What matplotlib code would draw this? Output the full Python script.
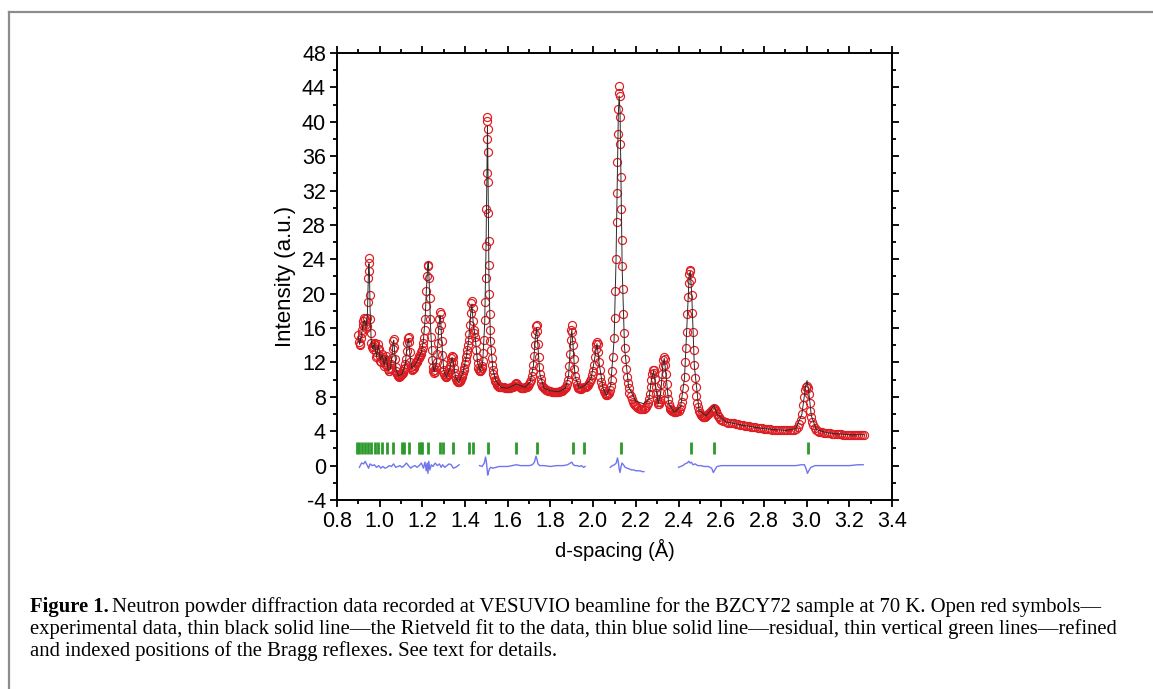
import matplotlib
matplotlib.use("Agg")
import matplotlib.pyplot as plt
from matplotlib.lines import Line2D
from matplotlib.ticker import MultipleLocator
import numpy as np

# observed intensities (d-spacing in A, intensity in a.u.)
obs = [
    (0.900, 15.2), (0.903, 14.4), (0.906, 14.0), (0.909, 14.2), (0.912, 14.8), (0.915, 15.4),
    (0.918, 15.8), (0.921, 16.3), (0.924, 16.8), (0.927, 17.2), (0.930, 17.0), (0.933, 16.4),
    (0.936, 16.0), (0.939, 16.2), (0.942, 17.2), (0.944, 19.0), (0.946, 21.8), (0.948, 23.6),
    (0.950, 24.1), (0.952, 22.6), (0.954, 19.8), (0.956, 17.0), (0.958, 15.4), (0.961, 14.3),
    (0.964, 13.8), (0.967, 13.6), (0.970, 13.9), (0.973, 14.2), (0.976, 14.3), (0.979, 14.0),
    (0.982, 13.2), (0.985, 12.6), (0.988, 12.8), (0.991, 13.6), (0.994, 14.1), (0.997, 13.6),
    (1.000, 12.8), (1.003, 12.2), (1.006, 12.0), (1.009, 12.4), (1.012, 13.0), (1.015, 12.6),
    (1.018, 12.0), (1.021, 11.6), (1.024, 11.8), (1.027, 12.4), (1.030, 12.8), (1.033, 12.3),
    (1.036, 11.6), (1.039, 11.2), (1.042, 11.0), (1.045, 11.0), (1.048, 11.2), (1.051, 11.4),
    (1.054, 11.8), (1.057, 12.5), (1.060, 13.6), (1.063, 14.5), (1.066, 14.7), (1.069, 13.8),
    (1.072, 12.4), (1.075, 11.5), (1.078, 11.0), (1.081, 10.7), (1.084, 10.5), (1.087, 10.4),
    (1.090, 10.3), (1.093, 10.4), (1.096, 10.4), (1.099, 10.5), (1.102, 10.6), (1.105, 10.7),
    (1.108, 10.8), (1.111, 11.0), (1.114, 11.2), (1.117, 11.4), (1.120, 11.8), (1.123, 12.4),
    (1.126, 13.3), (1.129, 14.3), (1.132, 14.9), (1.135, 15.0), (1.138, 14.4), (1.141, 13.2),
    (1.144, 12.1), (1.147, 11.5), (1.150, 11.2), (1.153, 11.1), (1.156, 11.2), (1.159, 11.4),
    (1.162, 11.6), (1.165, 11.7), (1.168, 11.9), (1.171, 12.0), (1.174, 12.1), (1.177, 12.2),
    (1.180, 12.4), (1.183, 12.5), (1.186, 12.7), (1.189, 12.8), (1.192, 13.0), (1.195, 13.2),
    (1.198, 13.5), (1.201, 13.8), (1.204, 14.3), (1.207, 14.9), (1.210, 15.8), (1.213, 17.0),
    (1.216, 18.6), (1.219, 20.3), (1.222, 22.0), (1.225, 23.3), (1.228, 23.2), (1.231, 21.8),
    (1.234, 19.5), (1.237, 17.0), (1.240, 15.0), (1.243, 13.4), (1.246, 12.3), (1.249, 11.5),
    (1.252, 11.0), (1.255, 10.8), (1.258, 10.9), (1.261, 11.1), (1.264, 11.5), (1.267, 12.1),
    (1.270, 13.0), (1.273, 14.3), (1.276, 15.8), (1.279, 17.1), (1.282, 17.9), (1.285, 17.6),
    (1.288, 16.3), (1.291, 14.5), (1.294, 12.9), (1.297, 11.8), (1.300, 11.1), (1.303, 10.7),
    (1.306, 10.4), (1.309, 10.3), (1.312, 10.3), (1.315, 10.4), (1.318, 10.5), (1.321, 10.7),
    (1.324, 10.9), (1.327, 11.2), (1.330, 11.6), (1.333, 12.1), (1.336, 12.5), (1.339, 12.7),
    (1.342, 12.6), (1.345, 12.1), (1.348, 11.4), (1.351, 10.8), (1.354, 10.4), (1.357, 10.1),
    (1.360, 9.9), (1.363, 9.8), (1.366, 9.7), (1.369, 9.7), (1.372, 9.7), (1.375, 9.8),
    (1.378, 9.9), (1.381, 10.1), (1.384, 10.3), (1.387, 10.5), (1.390, 10.8), (1.393, 11.1),
    (1.396, 11.4), (1.399, 11.8), (1.402, 12.2), (1.405, 12.6), (1.408, 13.0), (1.411, 13.5),
    (1.414, 14.0), (1.417, 14.6), (1.420, 15.3), (1.423, 16.4), (1.426, 17.8), (1.429, 18.9),
    (1.432, 19.2), (1.435, 18.3), (1.438, 16.8), (1.441, 15.8), (1.444, 15.4), (1.447, 15.0),
    (1.450, 14.4), (1.453, 13.5), (1.456, 12.6), (1.459, 11.9), (1.462, 11.4), (1.465, 11.1),
    (1.468, 11.0), (1.471, 11.0), (1.474, 11.1), (1.477, 11.3), (1.480, 11.6), (1.483, 12.2),
    (1.486, 13.1), (1.489, 14.6), (1.492, 16.9), (1.494, 19.0), (1.496, 21.8), (1.498, 25.6),
    (1.500, 29.8), (1.502, 34.0), (1.503, 38.0), (1.504, 40.1), (1.505, 40.5), (1.506, 39.2),
    (1.507, 36.5), (1.508, 33.0), (1.509, 29.4), (1.510, 26.1), (1.511, 23.3), (1.513, 20.0),
    (1.515, 17.6), (1.517, 15.8), (1.519, 14.5), (1.521, 13.5), (1.524, 12.5), (1.527, 11.7),
    (1.530, 11.1), (1.533, 10.7), (1.536, 10.3), (1.539, 10.0), (1.542, 9.8), (1.545, 9.7),
    (1.548, 9.5), (1.551, 9.4), (1.555, 9.3), (1.560, 9.2), (1.565, 9.2), (1.570, 9.1),
    (1.575, 9.1), (1.580, 9.1), (1.585, 9.0), (1.590, 9.0), (1.595, 9.0), (1.600, 9.0),
    (1.605, 9.0), (1.610, 9.0), (1.615, 9.1), (1.620, 9.1), (1.625, 9.2), (1.630, 9.3),
    (1.635, 9.5), (1.640, 9.6), (1.645, 9.5), (1.650, 9.3), (1.655, 9.1), (1.660, 9.0),
    (1.665, 9.0), (1.670, 9.0), (1.675, 9.0), (1.680, 9.1), (1.685, 9.1), (1.690, 9.2),
    (1.695, 9.3), (1.700, 9.5), (1.705, 9.7), (1.709, 10.0), (1.713, 10.4), (1.717, 11.0),
    (1.720, 11.7), (1.723, 12.7), (1.726, 14.0), (1.729, 15.3), (1.732, 16.2), (1.735, 16.4),
    (1.738, 15.7), (1.741, 14.2), (1.744, 12.6), (1.747, 11.5), (1.750, 10.7), (1.754, 10.1),
    (1.758, 9.6), (1.762, 9.3), (1.766, 9.1), (1.770, 9.0), (1.775, 8.9), (1.780, 8.8),
    (1.785, 8.8), (1.790, 8.7), (1.795, 8.7), (1.800, 8.7), (1.805, 8.6), (1.810, 8.6),
    (1.815, 8.6), (1.820, 8.6), (1.825, 8.6), (1.830, 8.6), (1.835, 8.6), (1.840, 8.6),
    (1.845, 8.7), (1.850, 8.7), (1.855, 8.7), (1.860, 8.8), (1.865, 8.9), (1.870, 9.0),
    (1.874, 9.2), (1.878, 9.5), (1.882, 10.0), (1.885, 10.6), (1.888, 11.6), (1.891, 13.0),
    (1.894, 14.6), (1.897, 15.8), (1.900, 16.3), (1.903, 15.6), (1.906, 14.0), (1.909, 12.4),
    (1.912, 11.2), (1.915, 10.4), (1.919, 9.8), (1.923, 9.4), (1.927, 9.2), (1.931, 9.0),
    (1.935, 9.0), (1.940, 8.9), (1.945, 8.9), (1.950, 9.0), (1.955, 9.1), (1.960, 9.2),
    (1.965, 9.2), (1.970, 9.3), (1.975, 9.4), (1.980, 9.6), (1.985, 9.8), (1.990, 10.1),
    (1.995, 10.5), (2.000, 11.0), (2.004, 11.7), (2.008, 12.6), (2.012, 13.6), (2.015, 14.2),
    (2.018, 14.4), (2.021, 14.1), (2.024, 13.2), (2.027, 12.1), (2.030, 11.1), (2.034, 10.3),
    (2.038, 9.7), (2.042, 9.3), (2.046, 9.0), (2.050, 8.7), (2.054, 8.5), (2.058, 8.3),
    (2.062, 8.2), (2.066, 8.2), (2.070, 8.3), (2.074, 8.5), (2.078, 8.8), (2.082, 9.3),
    (2.086, 10.0), (2.090, 11.0), (2.094, 12.6), (2.098, 14.8), (2.101, 17.2), (2.104, 20.3),
    (2.107, 24.0), (2.110, 28.3), (2.112, 31.7), (2.114, 35.3), (2.116, 38.6), (2.118, 41.5),
    (2.120, 43.4), (2.122, 44.2), (2.124, 43.0), (2.126, 40.6), (2.128, 37.4), (2.130, 33.6),
    (2.132, 29.8), (2.134, 26.3), (2.136, 23.2), (2.138, 20.6), (2.141, 17.6), (2.144, 15.4),
    (2.147, 13.7), (2.150, 12.4), (2.154, 11.2), (2.158, 10.3), (2.162, 9.6), (2.166, 9.0),
    (2.170, 8.5), (2.175, 8.1), (2.180, 7.7), (2.185, 7.4), (2.190, 7.2), (2.195, 7.0),
    (2.200, 6.9), (2.206, 6.8), (2.212, 6.7), (2.218, 6.6), (2.224, 6.6), (2.230, 6.6),
    (2.236, 6.6), (2.242, 6.7), (2.248, 6.8), (2.253, 7.0), (2.257, 7.3), (2.261, 7.7),
    (2.265, 8.3), (2.269, 9.1), (2.273, 10.0), (2.277, 10.7), (2.281, 11.1), (2.284, 11.1),
    (2.287, 10.8), (2.290, 10.1), (2.293, 9.2), (2.296, 8.4), (2.299, 7.8), (2.302, 7.4),
    (2.305, 7.2), (2.308, 7.2), (2.311, 7.4), (2.314, 7.8), (2.317, 8.5), (2.320, 9.5),
    (2.323, 10.6), (2.326, 11.6), (2.329, 12.3), (2.332, 12.6), (2.335, 12.4), (2.338, 11.7),
    (2.341, 10.6), (2.344, 9.5), (2.347, 8.5), (2.350, 7.8), (2.354, 7.2), (2.358, 6.8),
    (2.362, 6.6), (2.366, 6.5), (2.370, 6.4), (2.375, 6.3), (2.380, 6.2), (2.385, 6.2),
    (2.390, 6.2), (2.395, 6.3), (2.400, 6.4), (2.405, 6.6), (2.410, 6.9), (2.415, 7.4),
    (2.420, 8.1), (2.424, 9.0), (2.428, 10.3), (2.432, 12.0), (2.435, 13.7), (2.438, 15.6),
    (2.441, 17.6), (2.444, 19.6), (2.447, 21.2), (2.450, 22.3), (2.453, 22.8), (2.456, 22.6),
    (2.459, 21.6), (2.462, 19.9), (2.465, 17.8), (2.468, 15.6), (2.471, 13.5), (2.474, 11.7),
    (2.477, 10.2), (2.480, 9.1), (2.484, 8.1), (2.488, 7.3), (2.492, 6.8), (2.496, 6.4),
    (2.500, 6.1), (2.505, 5.9), (2.510, 5.8), (2.515, 5.7), (2.520, 5.7), (2.525, 5.7),
    (2.530, 5.8), (2.535, 5.9), (2.540, 6.0), (2.545, 6.1), (2.550, 6.3), (2.555, 6.5),
    (2.560, 6.6), (2.565, 6.7), (2.570, 6.6), (2.575, 6.3), (2.580, 6.0), (2.585, 5.8),
    (2.590, 5.6), (2.595, 5.4), (2.600, 5.3), (2.610, 5.2), (2.620, 5.1), (2.630, 5.0),
    (2.640, 5.0), (2.650, 4.9), (2.660, 4.9), (2.670, 4.8), (2.680, 4.8), (2.690, 4.7),
    (2.700, 4.7), (2.710, 4.6), (2.720, 4.6), (2.730, 4.6), (2.740, 4.5), (2.750, 4.5),
    (2.760, 4.5), (2.770, 4.4), (2.780, 4.4), (2.790, 4.4), (2.800, 4.3), (2.810, 4.3),
    (2.820, 4.3), (2.830, 4.3), (2.840, 4.2), (2.850, 4.2), (2.860, 4.2), (2.870, 4.2),
    (2.880, 4.2), (2.890, 4.1), (2.900, 4.1), (2.910, 4.1), (2.920, 4.1), (2.930, 4.2),
    (2.940, 4.2), (2.950, 4.3), (2.958, 4.5), (2.965, 4.8), (2.972, 5.3), (2.978, 6.0),
    (2.984, 7.0), (2.989, 8.0), (2.994, 8.8), (2.998, 9.2), (3.002, 9.3), (3.006, 9.0),
    (3.010, 8.3), (3.014, 7.3), (3.018, 6.4), (3.022, 5.7), (3.027, 5.1), (3.032, 4.7),
    (3.038, 4.4), (3.045, 4.2), (3.052, 4.0), (3.060, 3.9), (3.070, 3.9), (3.080, 3.8),
    (3.090, 3.8), (3.100, 3.8), (3.110, 3.8), (3.120, 3.7), (3.130, 3.7), (3.140, 3.7),
    (3.150, 3.7), (3.160, 3.7), (3.170, 3.6), (3.180, 3.6), (3.190, 3.6), (3.200, 3.6),
    (3.210, 3.6), (3.220, 3.6), (3.230, 3.6), (3.240, 3.6), (3.250, 3.6), (3.260, 3.6),
    (3.268, 3.6),
]

# Rietveld fit
fit = [
    (0.900, 15.0), (0.906, 14.1), (0.915, 15.3), (0.924, 16.7), (0.930, 16.9), (0.936, 16.0),
    (0.942, 17.3), (0.946, 21.5), (0.948, 23.2), (0.950, 23.5), (0.952, 22.3), (0.955, 18.2),
    (0.960, 14.6), (0.967, 13.6), (0.975, 14.2), (0.985, 12.7), (0.994, 14.0), (1.003, 12.3),
    (1.012, 12.9), (1.021, 11.7), (1.030, 12.7), (1.040, 11.1), (1.050, 11.3), (1.058, 12.9),
    (1.063, 14.4), (1.066, 14.6), (1.070, 13.3), (1.078, 11.0), (1.090, 10.4), (1.105, 10.7),
    (1.120, 11.8), (1.129, 14.2), (1.135, 14.7), (1.141, 13.1), (1.150, 11.3), (1.165, 11.7),
    (1.180, 12.4), (1.195, 13.2), (1.205, 14.6), (1.213, 17.2), (1.219, 20.5), (1.225, 23.4),
    (1.228, 23.7), (1.232, 21.2), (1.238, 16.3), (1.246, 12.2), (1.255, 10.9), (1.267, 12.1),
    (1.276, 15.7), (1.282, 17.4), (1.285, 17.2), (1.291, 14.4), (1.300, 11.1), (1.312, 10.3),
    (1.327, 11.2), (1.339, 12.6), (1.345, 12.0), (1.355, 10.3), (1.370, 9.7), (1.390, 10.8),
    (1.405, 12.6), (1.417, 14.6), (1.426, 17.6), (1.432, 18.8), (1.438, 16.6), (1.447, 15.0),
    (1.459, 11.9), (1.471, 11.0), (1.483, 12.2), (1.492, 16.6), (1.498, 25.2), (1.502, 33.8),
    (1.505, 39.5), (1.508, 32.6), (1.512, 21.4), (1.519, 14.6), (1.530, 11.2), (1.545, 9.8),
    (1.570, 9.1), (1.600, 9.0), (1.640, 9.5), (1.680, 9.1), (1.705, 9.7), (1.720, 11.6),
    (1.729, 14.9), (1.735, 16.0), (1.741, 14.0), (1.750, 10.7), (1.770, 9.0), (1.800, 8.7),
    (1.840, 8.6), (1.870, 9.0), (1.885, 10.5), (1.894, 14.4), (1.900, 15.8), (1.906, 13.9),
    (1.915, 10.4), (1.935, 9.0), (1.960, 9.3), (1.990, 10.1), (2.008, 12.6), (2.018, 14.2),
    (2.027, 12.1), (2.046, 9.0), (2.062, 8.2), (2.082, 9.3), (2.098, 14.6), (2.107, 23.7),
    (2.114, 34.5), (2.118, 41.0), (2.122, 43.0), (2.126, 41.2), (2.130, 33.8), (2.136, 22.9),
    (2.147, 13.7), (2.166, 9.2), (2.200, 7.5), (2.236, 7.2), (2.261, 7.7), (2.273, 10.0),
    (2.283, 11.0), (2.293, 9.2), (2.305, 7.2), (2.317, 8.5), (2.326, 11.6), (2.333, 12.5),
    (2.341, 10.6), (2.354, 7.2), (2.380, 6.2), (2.410, 6.9), (2.428, 10.2), (2.441, 17.4),
    (2.450, 22.2), (2.455, 22.6), (2.462, 19.8), (2.474, 11.6), (2.496, 6.4), (2.530, 5.8),
    (2.555, 6.6), (2.566, 7.0), (2.580, 6.0), (2.620, 5.1), (2.700, 4.7), (2.800, 4.3),
    (2.900, 4.1), (2.950, 4.3), (2.978, 6.0), (2.994, 9.0), (3.002, 9.9), (3.010, 8.6),
    (3.022, 5.8), (3.045, 4.2), (3.100, 3.8), (3.200, 3.6), (3.268, 3.6),
]

# difference curve (gaps = excluded regions)
residual = [
    (0.905, -0.2), (0.915, 0.3), (0.925, 0.2), (0.932, 0.5), (0.940, 0.1), (0.948, -0.3),
    (0.955, 0.2), (0.965, 0.0), (0.975, 0.1), (0.985, -0.2), (0.995, 0.0), (1.005, -0.3),
    (1.015, -0.1), (1.025, -0.3), (1.035, -0.2), (1.045, 0.0), (1.055, -0.1), (1.065, 0.2),
    (1.075, -0.2), (1.085, -0.1), (1.095, 0.0), (1.105, -0.2), (1.115, 0.0), (1.125, 0.3),
    (1.135, 0.0), (1.145, -0.3), (1.155, -0.1), (1.165, 0.0), (1.175, -0.2), (1.185, 0.0),
    (1.195, 0.3), (1.205, -0.3), (1.212, 0.4), (1.218, -0.6), (1.222, 0.3), (1.226, -0.9),
    (1.230, 0.5), (1.235, -0.5), (1.242, 0.1), (1.250, -0.1), (1.260, 0.3), (1.270, 0.0),
    (1.280, 0.2), (1.288, -0.2), (1.295, 0.1), (1.305, -0.2), (1.315, 0.0), (1.325, 0.2),
    (1.335, 0.1), (1.345, -0.3), (1.355, -0.2), (1.362, -0.1), (1.372, 0.1),
    (1.420, np.nan),
    (1.468, 0.0), (1.480, -0.1), (1.490, 0.3), (1.496, 1.0), (1.500, 0.4), (1.503, -0.3),
    (1.506, -1.1), (1.509, -0.8), (1.514, -0.4), (1.520, -0.2), (1.530, -0.3), (1.545, -0.2),
    (1.560, -0.1), (1.580, -0.1), (1.600, -0.1), (1.620, 0.0), (1.640, 0.1), (1.660, 0.0),
    (1.680, 0.0), (1.700, 0.0), (1.715, 0.1), (1.725, 0.4), (1.732, 1.1), (1.737, 0.7),
    (1.742, 0.2), (1.750, 0.0), (1.770, 0.0), (1.800, -0.1), (1.830, 0.0), (1.860, 0.0),
    (1.880, 0.1), (1.893, 0.3), (1.900, 0.4), (1.907, 0.1), (1.915, 0.0), (1.925, 0.0),
    (1.935, -0.1), (1.945, 0.0), (1.955, -0.2), (1.962, -0.1),
    (2.020, np.nan),
    (2.080, -0.2), (2.090, 0.0), (2.100, 0.1), (2.108, 0.3), (2.114, 0.9), (2.118, 0.4),
    (2.122, -0.4), (2.126, -0.8), (2.130, -0.2), (2.135, 0.3), (2.142, 0.1), (2.150, -0.2),
    (2.160, -0.3), (2.170, -0.4), (2.180, -0.5), (2.190, -0.5), (2.200, -0.6), (2.210, -0.6),
    (2.220, -0.6), (2.230, -0.7), (2.238, -0.7),
    (2.320, np.nan),
    (2.400, -0.2), (2.410, -0.1), (2.420, 0.0), (2.430, 0.2), (2.440, 0.3), (2.448, 0.5),
    (2.454, 0.3), (2.460, 0.4), (2.468, 0.1), (2.478, 0.2), (2.490, 0.0), (2.505, 0.0),
    (2.520, -0.1), (2.540, -0.1), (2.555, -0.3), (2.563, -0.8), (2.570, -0.5), (2.580, -0.1),
    (2.600, 0.0), (2.650, 0.0), (2.700, 0.0), (2.750, 0.0), (2.800, 0.0), (2.850, 0.0),
    (2.900, 0.0), (2.950, 0.0), (2.975, 0.1), (2.990, 0.1), (2.998, -0.4), (3.004, -0.9),
    (3.010, -0.6), (3.020, -0.2), (3.040, 0.0), (3.080, 0.0), (3.120, 0.0), (3.160, 0.0),
    (3.200, 0.0), (3.240, 0.1), (3.265, 0.1),
]

# Bragg reflection positions
bragg = [0.892, 0.905, 0.917, 0.933, 0.945, 0.961, 0.976, 0.994, 1.009, 1.033, 1.064,
         1.103, 1.114, 1.139, 1.183, 1.192, 1.200, 1.228, 1.282, 1.298, 1.345, 1.420,
         1.438, 1.506, 1.638, 1.738, 1.904, 1.955, 2.129, 2.457, 2.568, 3.008]

caption_bold = "Figure 1."
caption_lines = [
    "Neutron powder diffraction data recorded at VESUVIO beamline for the BZCY72 sample at 70 K. Open red symbols\u2014",
    "experimental data, thin black solid line\u2014the Rietveld fit to the data, thin blue solid line\u2014residual, thin vertical green lines\u2014refined",
    "and indexed positions of the Bragg reflexes. See text for details.",
]

plt.rcParams["font.family"] = ["Liberation Sans", "DejaVu Sans"]

W, H = 1153, 689
fig = plt.figure(figsize=(W / 100, H / 100), dpi=100)
ax = fig.add_axes([337 / W, 1 - 500 / H, 555 / W, 447 / H])

d_obs, i_obs = zip(*obs)
d_fit, i_fit = zip(*fit)
d_res, i_res = zip(*residual)

ax.plot(d_obs, i_obs, "o", ms=5.8, mfc="none", mec="#dd1c22", mew=0.85, zorder=2)
ax.plot(d_fit, i_fit, "-", color="#2b2b2b", lw=0.7, zorder=3)
ax.plot(d_res, i_res, "-", color="#6f74f0", lw=1.0, zorder=2)
ax.vlines(bragg, 1.3, 2.7, color="#2c9a2c", lw=2.0, zorder=2)

ax.set_xlim(0.8, 3.4)
ax.set_ylim(-4, 48)
ax.xaxis.set_major_locator(MultipleLocator(0.2))
ax.xaxis.set_minor_locator(MultipleLocator(0.1))
ax.yaxis.set_major_locator(MultipleLocator(4))
ax.yaxis.set_minor_locator(MultipleLocator(2))
ax.xaxis.set_major_formatter(plt.FuncFormatter(lambda v, p: f"{v:.1f}"))
ax.yaxis.set_major_formatter(plt.FuncFormatter(lambda v, p: f"{v:.0f}"))

for s in ax.spines.values():
    s.set_linewidth(1.4)
ax.tick_params(which="both", direction="out", top=True, right=True, width=1.4, labelsize=15.5, color="#111111")
ax.tick_params(which="major", length=5, pad=3)
ax.tick_params(which="minor", length=3)

ax.set_xlabel("d-spacing (\u00c5)", fontsize=14.5, labelpad=5)
ax.set_ylabel("Intensity (a.u.)", fontsize=16, labelpad=4)

# outer frame (left and top edges only)
fig.add_artist(Line2D([9 / W, 9 / W], [0, 1 - 12 / H], transform=fig.transFigure, color="#8c8c8c", lw=1.6))
fig.add_artist(Line2D([9 / W, 1], [1 - 12 / H, 1 - 12 / H], transform=fig.transFigure, color="#8c8c8c", lw=1.6))

# caption, sized so the second line spans the text block width
renderer = fig.canvas.get_renderer()
probe = fig.text(0, 0, caption_lines[1], family="Liberation Serif", fontsize=12)
w12 = probe.get_window_extent(renderer).width
probe.remove()
fs = 12 * 1087 / w12

x0 = 30 / W
base = [612, 634, 656]
tb = fig.text(x0, 1 - base[0] / H, caption_bold, family="Liberation Serif", fontweight="bold",
              fontsize=fs, va="baseline")
wb = tb.get_window_extent(renderer).width
fig.text(x0 + (wb + 3) / W, 1 - base[0] / H, caption_lines[0], family="Liberation Serif",
         fontsize=fs, va="baseline")
fig.text(x0, 1 - base[1] / H, caption_lines[1], family="Liberation Serif", fontsize=fs, va="baseline")
fig.text(x0, 1 - base[2] / H, caption_lines[2], family="Liberation Serif", fontsize=fs, va="baseline")

fig.savefig("out.png", dpi=100)
